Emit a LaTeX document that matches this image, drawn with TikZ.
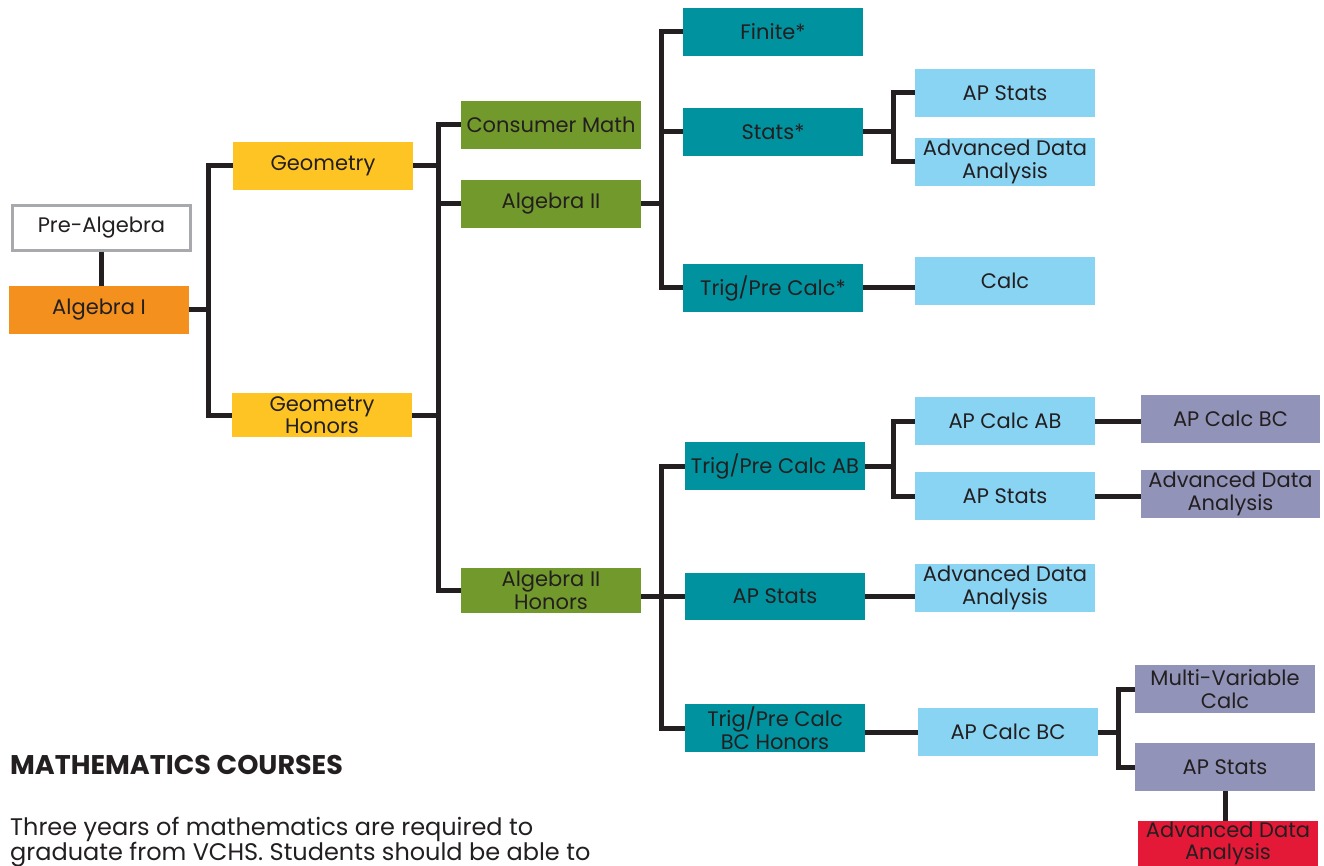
\documentclass[tikz,border=0pt]{standalone}
\usepackage{fontspec}
\setmainfont{Poppins}
\definecolor{ink}{HTML}{231F20}
\definecolor{borderg}{HTML}{A7A9AC}
\definecolor{orangeA}{HTML}{F3901E}
\definecolor{yellowA}{HTML}{FEC423}
\definecolor{greenA}{HTML}{72992C}
\definecolor{tealA}{HTML}{00929F}
\definecolor{lblue}{HTML}{89D3F3}
\definecolor{purpleA}{HTML}{9194B8}
\definecolor{redA}{HTML}{E31937}
\begin{document}
\begin{tikzpicture}[x=1pt,y=-1pt,
  box/.style={minimum width=180pt, minimum height=48pt, inner sep=0pt, align=center,
    text=ink, font=\fontsize{21}{22.5}\selectfont},
  link/.style={draw=ink, line width=5pt, line join=miter},
]
\useasboundingbox (0,0) rectangle (1324,866);

% level 0-1
\node[box, fill=white, draw=borderg, line width=3pt, minimum width=178pt, minimum height=45pt] (prealg) at (101.5,228) {Pre-Algebra};
\node[box, fill=orangeA, minimum height=47pt] (alg1) at (99,310) {Algebra I};
\node[box, fill=yellowA] (geo) at (323,166) {Geometry};
\node[box, fill=yellowA, minimum height=44pt] (geoh) at (322,415) {Geometry\\Honors};
% level 2
\node[box, fill=greenA] (cons) at (551,125) {Consumer Math};
\node[box, fill=greenA] (alg2) at (551,204) {Algebra II};
\node[box, fill=greenA, minimum height=45pt] (alg2h) at (551,590.5) {Algebra II\\Honors};
% level 3 upper
\node[box, fill=tealA] (finite) at (773,32) {Finite*};
\node[box, fill=tealA] (stats) at (773,132) {Stats*};
\node[box, fill=tealA] (trig) at (773,288) {Trig/Pre Calc*};
\node[box, fill=lblue] (apstatsA) at (1005,93) {AP Stats};
\node[box, fill=lblue] (adaA) at (1005,162) {Advanced Data\\Analysis};
\node[box, fill=lblue] (calc) at (1005,281) {Calc};
% level 3 lower
\node[box, fill=tealA] (trigab) at (775,466) {Trig/Pre Calc AB};
\node[box, fill=tealA, minimum height=47pt] (apstatsB) at (775,596) {AP Stats};
\node[box, fill=tealA] (trigbc) at (775,728) {Trig/Pre Calc\\BC Honors};
\node[box, fill=lblue] (apcalcab) at (1005,421) {AP Calc AB};
\node[box, fill=lblue] (apstatsC) at (1005,496) {AP Stats};
\node[box, fill=lblue] (adaB) at (1005,588) {Advanced Data\\Analysis};
\node[box, fill=lblue] (apcalcbcA) at (1008,732) {AP Calc BC};
\node[box, fill=purpleA, minimum width=179pt] (apcalcbcB) at (1230.5,419) {AP Calc BC};
\node[box, fill=purpleA, minimum width=179pt] (adaC) at (1230.5,494) {Advanced Data\\Analysis};
\node[box, fill=purpleA] (mvc) at (1225,689) {Multi-Variable\\Calc};
\node[box, fill=purpleA] (apstatsD) at (1225,767) {AP Stats};
\node[box, fill=redA, minimum height=45pt] (adaD) at (1228,843.5) {Advanced Data\\Analysis};

% junction coordinates
\coordinate (j1) at (208,310);
\coordinate (j2) at (438,200);
\coordinate (j3) at (661,200);
\coordinate (j4) at (893,128);
\coordinate (j5) at (661,597);
\coordinate (j6) at (893,466);
\coordinate (j7) at (1118,732);

% connectors
\draw[link] (prealg.south) -- (prealg.south |- alg1.north);
\draw[link] (alg1.east) -- (j1);
\draw[link] (geo.west) -| (j1) |- (geoh.west);

\draw[link] (cons.west) -| (j2) |- (alg2h.west);
\draw[link] (geo.east) -- (geo.east -| j2);
\draw[link] (geoh.east) -- (geoh.east -| j2);
\draw[link] (alg2.west) -- (alg2.west -| j2);

\draw[link] (finite.west) -| (j3) |- (trig.west);
\draw[link] (alg2.east) -- (alg2.east -| j3);
\draw[link] (stats.west) -- (stats.west -| j3);

\draw[link] (apstatsA.west) -| (j4) |- (adaA.west);
\draw[link] (stats.east) -- (stats.east -| j4);
\draw[link] (trig.east) -- (trig.east -| calc.west);

\draw[link] (trigab.west) -| (j5) |- (trigbc.west);
\draw[link] (apstatsB.west) -- (apstatsB.west -| alg2h.east);
\draw[link] (apcalcab.west) -| (j6) |- (apstatsC.west);
\draw[link] (trigab.east) -- (trigab.east -| j6);
\draw[link] (apcalcab.east) -- (apcalcab.east -| apcalcbcB.west);
\draw[link] (apstatsC.east) -- (apstatsC.east -| adaC.west);
\draw[link] (apstatsB.east) -- (apstatsB.east -| adaB.west);
\draw[link] (trigbc.east |- apcalcbcA.west) -- (apcalcbcA.west);
\draw[link] (mvc.west) -| (j7) |- (apstatsD.west);
\draw[link] (apcalcbcA.east) -- (j7);
\draw[link] (apstatsD.south) -- (apstatsD.south |- adaD.north);

% text
\node[anchor=base west, inner sep=0pt, text=ink, font=\fontsize{27}{30}\selectfont\bfseries] (title) at (10,774) {MATHEMATICS COURSES};
\node[anchor=base west, inner sep=0pt, text=ink, align=left, font=\fontsize{24}{25}\selectfont] (body) at (10,860) {Three years of mathematics are required to\\graduate from VCHS. Students should be able to};
\end{tikzpicture}
\end{document}
